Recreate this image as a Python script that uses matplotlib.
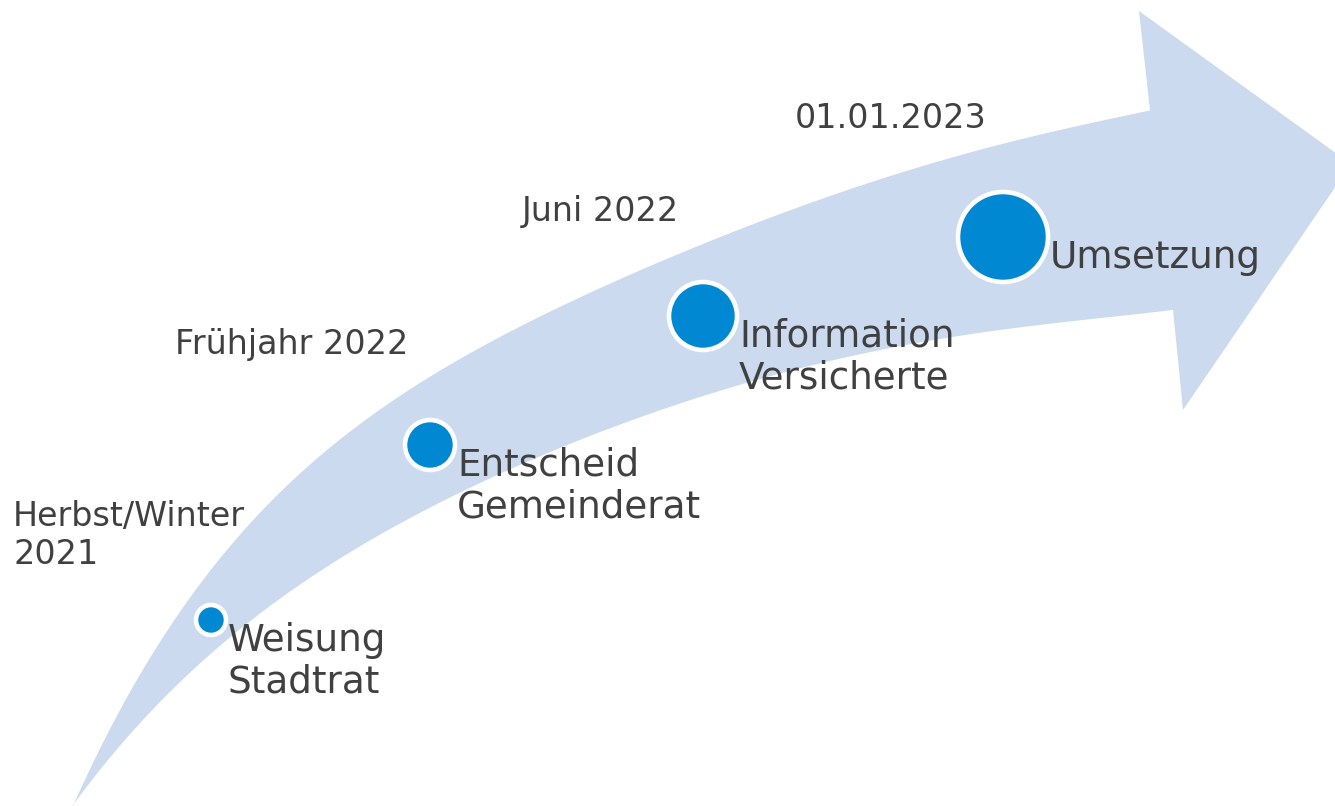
import numpy as np
import matplotlib.pyplot as plt
from matplotlib.patches import Polygon, Circle

# timeline content
dates = ["Herbst/Winter\n2021", "Frühjahr 2022", "Juni 2022", "01.01.2023"]
steps = ["Weisung\nStadtrat", "Entscheid\nGemeinderat", "Information\nVersicherte", "Umsetzung"]

# layout in pixels (figure is 1335 x 806)
step_x = [211, 430, 703, 1003]
step_y = [620, 445, 316, 237]
dot_r = [15, 25, 34, 45]
date_left = [13, 175, 522, 795]
date_base = [525, 353, 220, 127]

# arrow outline
upper_x = [72, 100, 127, 157, 193, 233, 277, 333, 400, 500, 633, 733, 900, 1000, 1150]
upper_y = [805, 750, 700, 650, 593, 540, 493, 443, 400, 337, 273, 233, 170, 147, 110]
lower_x = [72, 90, 117, 150, 187, 227, 267, 320, 367, 450, 530, 657, 740, 840, 957, 1060, 1173]
lower_y = [805, 783, 750, 713, 677, 640, 607, 570, 540, 497, 467, 408, 383, 360, 337, 322, 310]
head_x = [1139, 1351, 1183]
head_y = [11, 164, 410]

band = "#cbdaef"
dot = "#0088d2"
ink = "#404040"

up = np.polynomial.Polynomial.fit(upper_x, upper_y, 5)
lo = np.polynomial.Polynomial.fit(lower_x, lower_y, 5)

xu = np.linspace(upper_x[0], upper_x[-1], 300)
xl = np.linspace(lower_x[-1], lower_x[0], 300)
outline = np.vstack([
    np.column_stack([xu, up(xu)]),
    np.column_stack([head_x, head_y]),
    np.column_stack([xl, lo(xl)]),
])

fig = plt.figure(figsize=(13.35, 8.06), dpi=100)
ax = fig.add_axes([0, 0, 1, 1])
ax.set_xlim(0, 1335)
ax.set_ylim(806, 0)
ax.axis("off")

ax.add_patch(Polygon(outline, closed=True, facecolor=band, edgecolor="none"))

date_pt = 24
step_pt = 26.8
em_date = date_pt * 100 / 72
em_step = step_pt * 100 / 72

for i in range(len(steps)):
    cx, cy = step_x[i], step_y[i]
    ax.add_patch(Circle((cx, cy), dot_r[i], facecolor=dot, edgecolor="white",
                        linewidth=3.3, zorder=3))
    ax.text(cx + dot_r[i] + 2, cy + 30 - 0.76 * em_step, steps[i], fontsize=step_pt,
            color=ink, ha="left", va="top", linespacing=1.15, zorder=4)
    ax.text(date_left[i], date_base[i] - 0.76 * em_date, dates[i], fontsize=date_pt,
            color=ink, ha="left", va="top", linespacing=1.22, zorder=4)

fig.savefig("out.png", dpi=100)
